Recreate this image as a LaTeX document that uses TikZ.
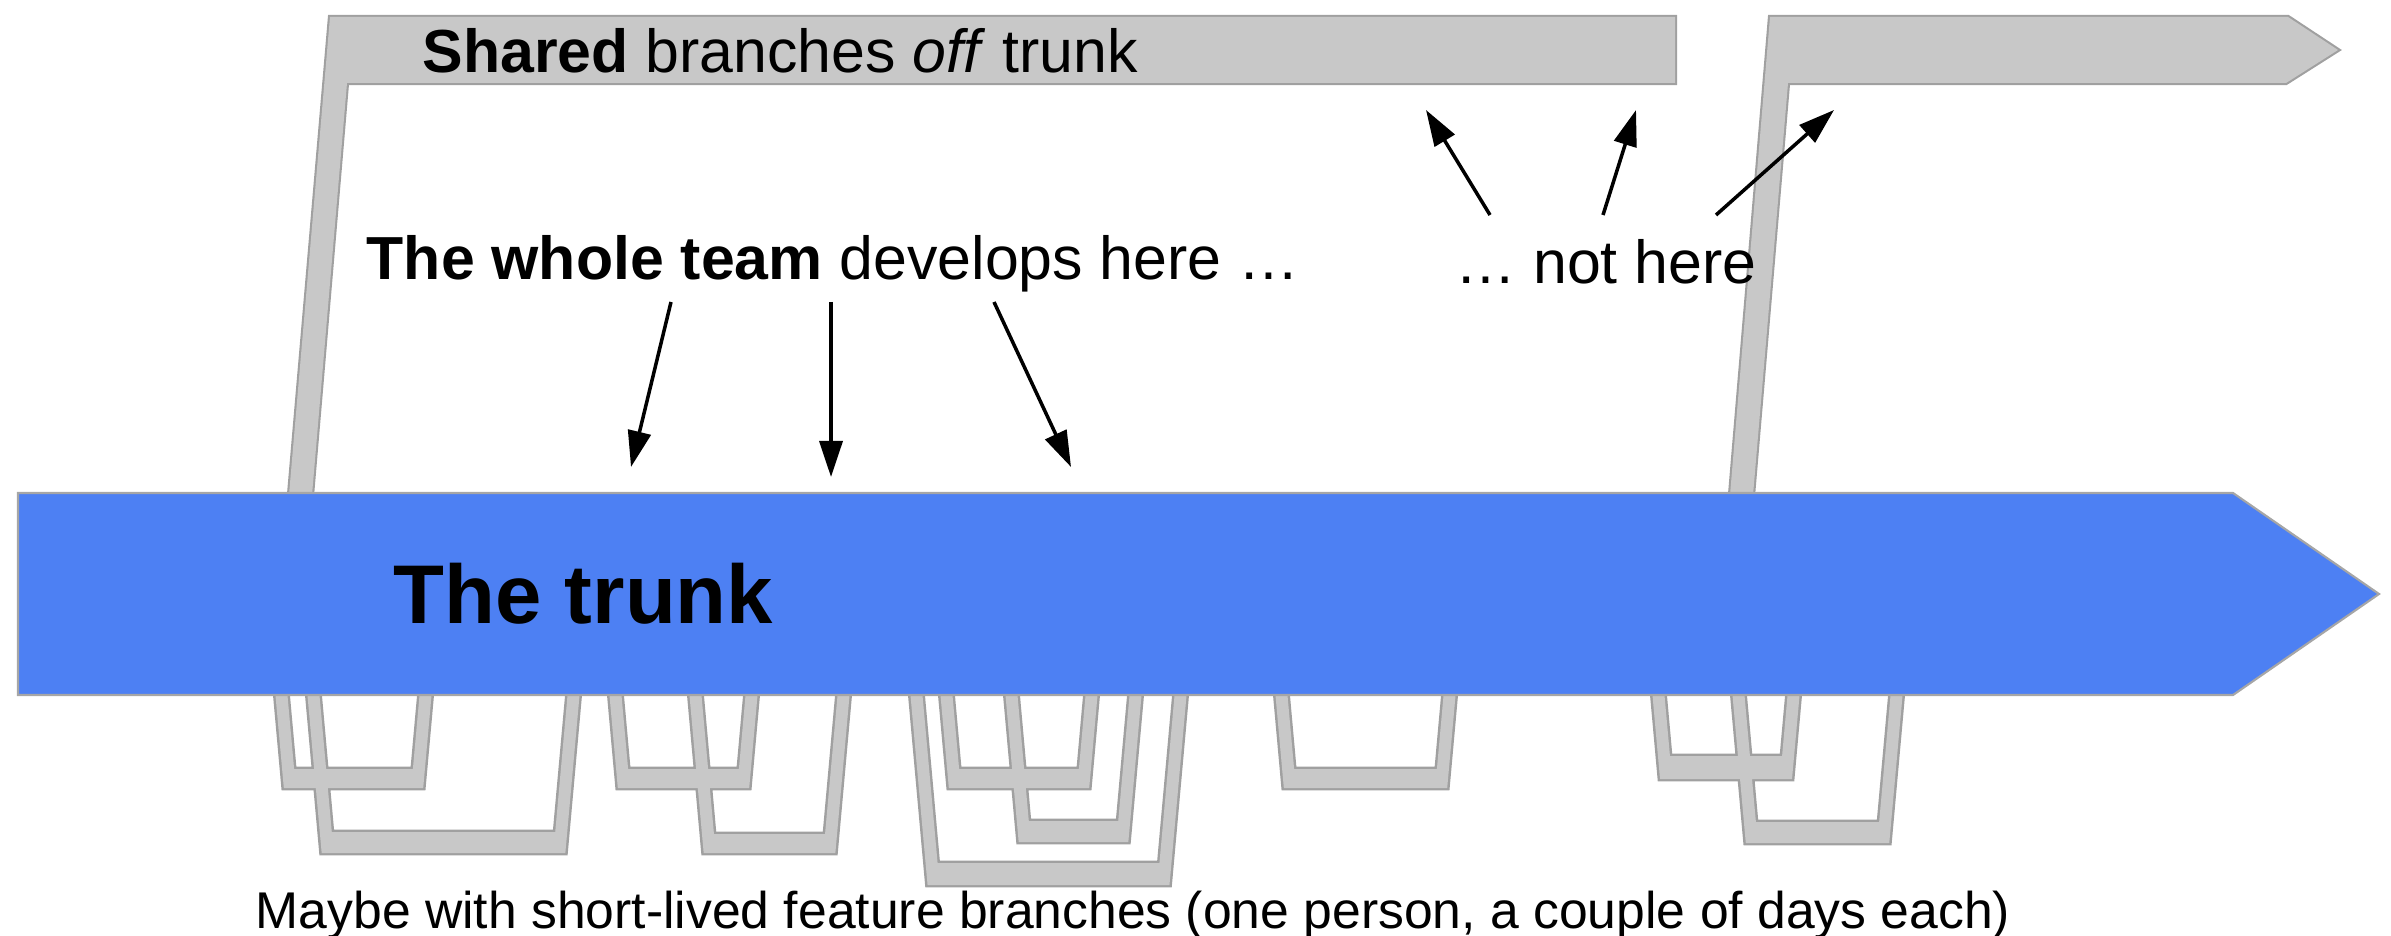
\documentclass[tikz,border=0pt]{standalone}
\usepackage{fontspec}
\setmainfont{Liberation Sans}
\usepackage{xcolor}
\usetikzlibrary{arrows.meta}

\definecolor{trunkblue}{RGB}{77,128,243}
\definecolor{branchgray}{RGB}{200,200,200}
\definecolor{edgegray}{RGB}{160,160,160}

% one feature branch under the trunk: left x, right x, inner y of the bar, outer y of the bar
\newcommand{\featbranch}[4]{(#1,-6.9) -- ({#1+0.09*(#4-6.9)},-#4) -- ({#2-0.09*(#4-6.9)},-#4) -- (#2,-6.9) -- ({#2-0.12},-6.9) -- ({#2-0.12-0.09*(#3-6.9)},-#3) -- ({#1+0.12+0.09*(#3-6.9)},-#3) -- ({#1+0.12},-6.9) -- cycle }

\begin{document}
\begin{tikzpicture}[
        featbr/.style={fill=branchgray, preaction={draw=edgegray, line width=1.4pt}},
        sharedbr/.style={fill=branchgray, preaction={draw=edgegray, line width=1.2pt}},
        saytext/.style={inner sep=0pt, anchor=base west, font=\fontsize{17.3}{21}\selectfont},
        devarrow/.style={line width=1pt, -{Triangle[length=3.6mm, width=2.3mm]}}
    ]
        \useasboundingbox (0,0) rectangle (23.91,-9.36);

        % Short-lived feature branches
        \path[featbr] \featbranch{2.75}{4.32}{7.69}{7.88} \featbranch{3.07}{5.80}{8.32}{8.53}
            \featbranch{6.09}{7.58}{7.69}{7.88} \featbranch{6.89}{8.50}{8.34}{8.53}
            \featbranch{9.10}{11.87}{8.63}{8.85} \featbranch{9.40}{10.98}{7.69}{7.88} \featbranch{10.05}{11.42}{8.21}{8.42}
            \featbranch{12.75}{14.56}{7.69}{7.88}
            \featbranch{16.52}{18.00}{7.56}{7.79} \featbranch{17.32}{19.03}{8.22}{8.43};

        % Shared branches
        \path[sharedbr] (2.89,-4.95) -- (3.30,-0.17) -- (16.75,-0.17) -- (16.75,-0.83) -- (3.47,-0.83) -- (3.12,-4.95) -- cycle;
        \path[sharedbr] (17.30,-4.95) -- (17.70,-0.17) -- (22.88,-0.17) -- (23.38,-0.50) -- (22.86,-0.83) -- (17.88,-0.83) -- (17.53,-4.95) -- cycle;

        % The trunk
        \draw[fill=trunkblue, draw=gray!70, line width=0.6pt] (0.18,-4.93) -- (22.33,-4.93) -- (23.79,-5.94) -- (22.33,-6.95) -- (0.18,-6.95) -- cycle;

        % Texts
        \node[saytext] (sharedtext) at (4.22,-0.73) {\textbf{Shared} branches \textit{off} trunk};
        \node[saytext] (teamtext) at (3.66,-2.80) {\textbf{The whole team} develops here …};
        \node[saytext] (nothere) at (14.55,-2.84) {… not here};
        \node[saytext, font=\fontsize{23.7}{28}\selectfont\bfseries] (trunktext) at (3.93,-6.23) {The trunk};
        \node[saytext, font=\fontsize{14.7}{18}\selectfont] (feattext) at (2.55,-9.28) {Maybe with short-lived feature branches (one person, a couple of days each)};

        % Arrow ends
        \coordinate (team1) at (6.71,-3.02);
        \coordinate (team2) at (8.31,-3.02);
        \coordinate (team3) at (9.94,-3.02);
        \coordinate (trunk1) at (6.31,-4.67);
        \coordinate (trunk2) at (8.31,-4.77);
        \coordinate (trunk3) at (10.71,-4.67);
        \coordinate (not1) at (14.90,-2.15);
        \coordinate (not2) at (16.03,-2.15);
        \coordinate (not3) at (17.16,-2.15);
        \coordinate (shared1) at (14.26,-1.10);
        \coordinate (shared2) at (16.36,-1.10);
        \coordinate (shared3) at (18.34,-1.10);

        % Arrows
        \draw[devarrow] (team1) -- (trunk1);
        \draw[devarrow] (team2) -- (trunk2);
        \draw[devarrow] (team3) -- (trunk3);
        \draw[devarrow] (not1) -- (shared1);
        \draw[devarrow] (not2) -- (shared2);
        \draw[devarrow] (not3) -- (shared3);
    \end{tikzpicture}
\end{document}
